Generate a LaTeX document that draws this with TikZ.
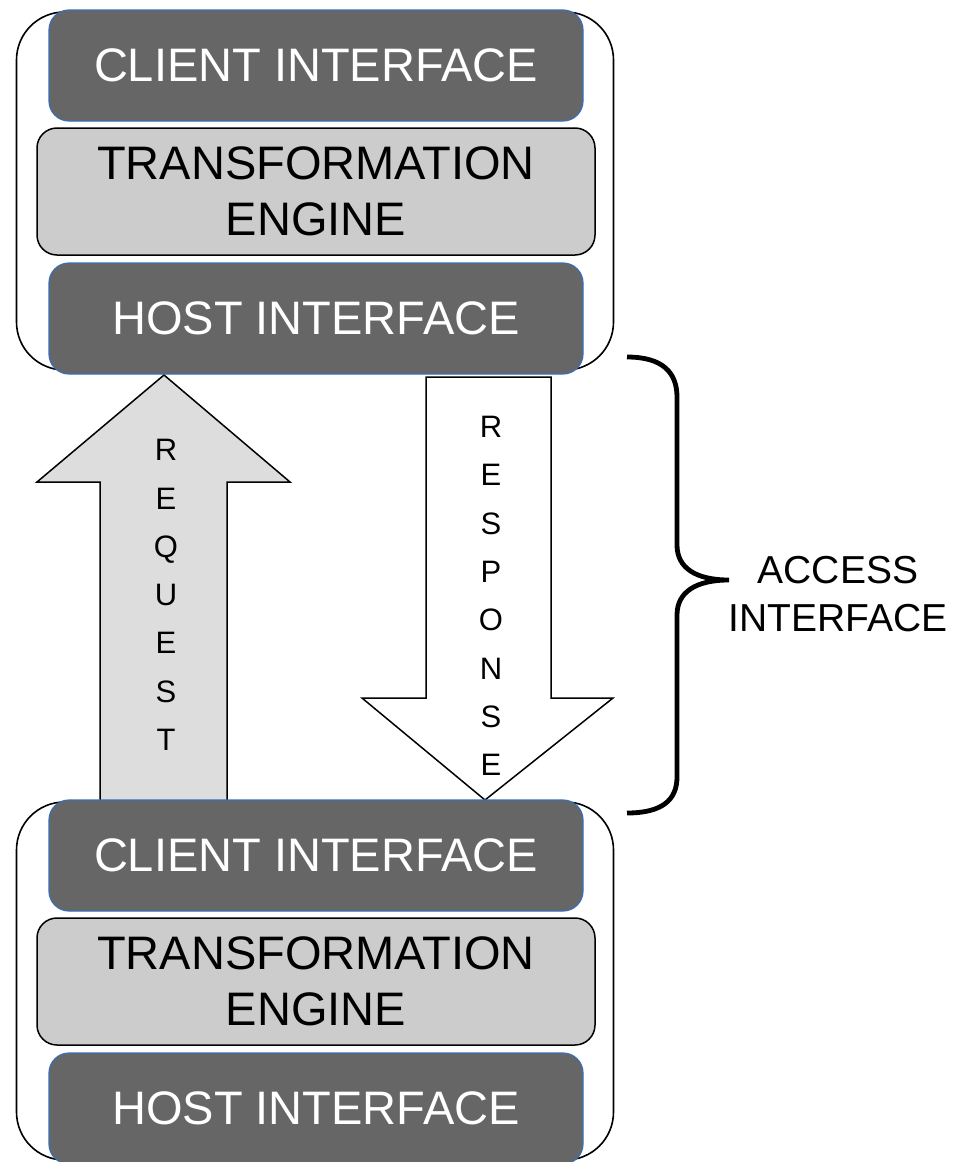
\documentclass[tikz,border=0pt]{standalone}
\usepackage{fontspec}
\setmainfont{Liberation Sans}
\definecolor{darkbox}{HTML}{666666}
\definecolor{midbox}{HTML}{CCCCCC}
\definecolor{reqfill}{HTML}{DDDDDD}
\definecolor{boxblue}{HTML}{3A6EB5}
\begin{document}
\begin{tikzpicture}[x=1pt,y=-1pt,
  container/.style={draw=black,line width=1.6pt,fill=white,rounded corners=48pt,
    minimum width=597pt,minimum height=358pt,inner sep=0pt},
  darkbox/.style={draw=boxblue,line width=1.2pt,fill=darkbox,rounded corners=20pt,
    minimum width=534pt,minimum height=111pt,inner sep=0pt,text=white,
    font=\fontsize{47}{56.4}\selectfont},
  midbox/.style={draw=black,line width=1.5pt,fill=midbox,rounded corners=20pt,
    minimum width=558pt,minimum height=127pt,inner sep=0pt,align=center,
    font=\fontsize{47}{56.4}\selectfont},
  blockarrow/.style={draw=black,line width=1.5pt,line join=miter},
  letters/.style={align=center,inner sep=0pt,font=\fontsize{31}{48.3}\selectfont},
  label/.style={align=center,inner sep=0pt,font=\fontsize{39}{48}\selectfont},
  bracestyle/.style={draw=black,line width=4.8pt}]
\useasboundingbox (0,0) rectangle (957,1162);

% containers
\node[container] (topc) at (315,191) {};
\node[container] (botc) at (315,981) {};

% request arrow (drawn below the boxes)
\coordinate (reqtip) at (164,375);
\draw[blockarrow,fill=reqfill] (reqtip) -- (290,482) -- (227,482) -- (227,806)
  -- (100,806) -- (100,482) -- (37,482) -- cycle;
\node[letters] (reqtext) at (166,595) {R\\E\\Q\\U\\E\\S\\T};

% response arrow
\coordinate (restip) at (485,800);
\draw[blockarrow,fill=white] (426,377) -- (551,377) -- (551,698) -- (613,698)
  -- (restip) -- (362,698) -- (426,698) -- cycle;
\node[letters] (restext) at (491,596) {R\\E\\S\\P\\O\\N\\S\\E};

% top stack
\node[darkbox] (tclient) at (316,65.5) {CLIENT INTERFACE};
\node[midbox] (tengine) at (316,191.5) {TRANSFORMATION\\ENGINE};
\node[darkbox] (thost) at (316,318.5) {HOST INTERFACE};

% bottom stack
\node[darkbox] (bclient) at (316,855.5) {CLIENT INTERFACE};
\node[midbox] (bengine) at (316,981.5) {TRANSFORMATION\\ENGINE};
\node[darkbox] (bhost) at (316,1108.5) {HOST INTERFACE};

% brace
\coordinate (bracetop) at (627,357);
\coordinate (bracetip) at (729,580);
\coordinate (bracebot) at (627,813);
\draw[bracestyle] (bracetop) .. controls (662,357) and (677,372) .. (677,397)
  -- (677,545) .. controls (677,568) and (696,580) .. (bracetip)
  .. controls (696,580) and (677,592) .. (677,615)
  -- (677,777) .. controls (677,800) and (662,813) .. (bracebot);
\node[label] (access) at (838,594) {ACCESS\\INTERFACE};
\end{tikzpicture}
\end{document}
